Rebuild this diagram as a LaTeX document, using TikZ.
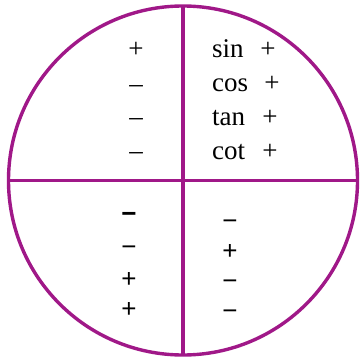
\documentclass[tikz,border=0pt]{standalone}
\usepackage{fontspec}
\setmainfont{Liberation Serif}
\setsansfont{Liberation Sans}
\usetikzlibrary{positioning}
\definecolor{quadpurple}{RGB}{160,24,136}
\tikzset{
    every node/.style={inner sep=0pt},
    rim/.style={draw=quadpurple,line width=3.4pt},
    axis/.style={draw=quadpurple,line width=3.2pt},
    fname/.style={font=\fontsize{27}{27}\selectfont,anchor=base west},
    serifsign/.style={font=\fontsize{27}{27}\selectfont,anchor=base},
    sanssign/.style={font=\sffamily\fontsize{26}{26}\selectfont,anchor=base}
}
\begin{document}
\begin{tikzpicture}[x=1pt,y=-1pt]
\useasboundingbox (0,0) rectangle (359,361);
\coordinate (o) at (183,180.5);
\node[circle,rim,minimum size=349pt] (ring) at (o) {};
\coordinate (top) at (183,5);
\coordinate (bot) at (183,356);
\coordinate (lft) at (8,180.5);
\coordinate (rgt) at (359,180.5);
\draw[axis] (top) -- (bot);
\draw[axis] (lft) -- (rgt);
% first quadrant
\foreach \i/\f/\y/\sx in {1/sin/57/268,2/cos/91/272,3/tan/125/270,4/cot/159/270}{
    \node[fname] (f\i) at (212,\y) {\f};
    \node[serifsign] (s\i) at (\sx,\y) {+};
}
% second quadrant
\foreach \i/\s/\y in {1/+/57,2/\textendash/92,3/\textendash/125,4/\textendash/159}{
    \node[serifsign] (q\i) at (136,\y) {\s};
}
% third quadrant
\foreach \i/\s/\y in {1/\textbf{\textminus}/222,2/\textminus/255,3/+/287,4/+/317}{
    \node[sanssign] (t\i) at (129,\y) {\s};
}
% fourth quadrant
\foreach \i/\s/\y in {1/\textminus/229,2/+/259,3/\textminus/289,4/\textminus/319}{
    \node[sanssign] (u\i) at (230,\y) {\s};
}
\end{tikzpicture}
\end{document}
